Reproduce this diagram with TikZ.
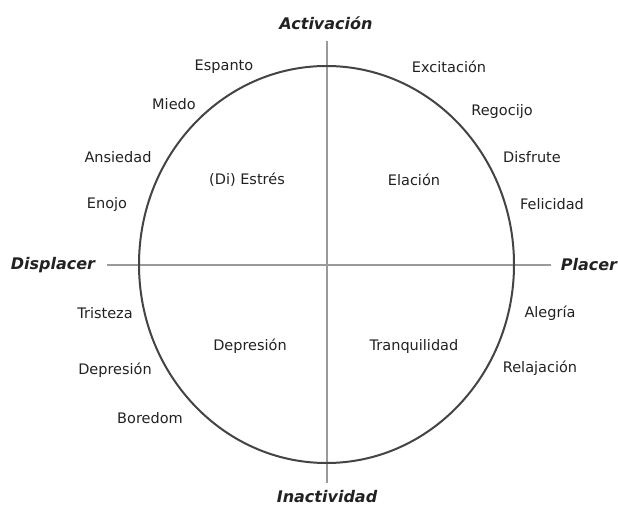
\documentclass[tikz,border=0pt]{standalone}
\usepackage{fontspec}
\setmainfont{DejaVu Sans}
\definecolor{txt}{HTML}{222222}
\definecolor{circ}{HTML}{444444}
\definecolor{axis}{HTML}{9A9A9A}
\begin{document}
\begin{tikzpicture}[x=1bp,y=-1bp,
  lab/.style={text=txt,font=\fontsize{14.5bp}{17bp}\selectfont,inner sep=0pt},
  axlab/.style={text=txt,font=\fontsize{16bp}{19bp}\selectfont\bfseries\itshape,inner sep=0pt},
  axline/.style={draw=axis,line width=2bp},
  ring/.style={draw=circ,line width=2bp}]
\useasboundingbox (0,0) rectangle (618,506);
\fill[white] (0,0) rectangle (618,506);
\coordinate (vt) at (326.5,41);
\coordinate (vb) at (326.5,483);
\coordinate (hl) at (107,265);
\coordinate (hr) at (551,265);
\draw[axline] (vt) -- (vb);
\draw[axline] (hl) -- (hr);
\draw[ring] (326.5,264.5) ellipse [x radius=187.5bp, y radius=198.5bp];
\node[axlab] (act) at (326,23) {Activación};
\node[axlab] (ina) at (327,497) {Inactividad};
\node[axlab] (dis) at (53,265) {Displacer};
\node[axlab] (pla) at (589,265) {Placer};
\node[lab] (espanto) at (224,67) {Espanto};
\node[lab] (excit) at (449,67) {Excitación};
\node[lab] (miedo) at (174,104) {Miedo};
\node[lab] (regoc) at (502,112) {Regocijo};
\node[lab] (ansie) at (118,157) {Ansiedad};
\node[lab] (disfr) at (532,157) {Disfrute};
\node[lab] (enojo) at (107,204) {Enojo};
\node[lab] (felic) at (552,204) {Felicidad};
\node[lab] (estres) at (247,180) {(Di) Estrés};
\node[lab] (elac) at (414,180) {Elación};
\node[lab] (trist) at (105,313) {Tristeza};
\node[lab] (alegr) at (550,313) {Alegría};
\node[lab] (depl) at (115,370) {Depresión};
\node[lab] (relaj) at (540,368) {Relajación};
\node[lab] (bored) at (150,418) {Boredom};
\node[lab] (depi) at (250,346) {Depresión};
\node[lab] (tranq) at (414,346) {Tranquilidad};
\end{tikzpicture}
\end{document}
